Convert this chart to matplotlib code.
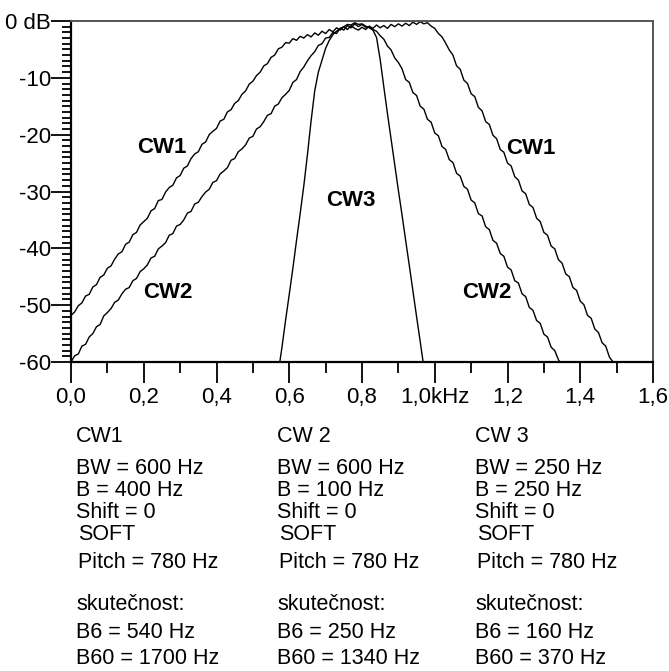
import matplotlib
matplotlib.use("Agg")
import matplotlib.pyplot as plt
from matplotlib.ticker import MultipleLocator, FixedLocator

# ---------------- data ----------------
# frequency grid of the measurement, kHz (10 Hz steps)
f_cw1 = [round(0.01 * i, 2) for i in range(150)]          # 0.00 .. 1.49
db_cw1 = [
    -51.8, -51.2, -50.1, -49.6, -48.4, -48.1, -46.8, -46.4, -45.1, -44.7,
    -43.5, -43.1, -41.9, -41.0, -40.6, -39.3, -38.9, -37.6, -37.2, -35.9,
    -35.3, -34.7, -33.4, -33.0, -31.6, -31.4, -30.1, -29.3, -28.9, -27.6,
    -27.2, -25.9, -25.5, -24.2, -23.4, -23.0, -21.7, -21.3, -20.0, -19.4,
    -18.9, -17.6, -17.3, -16.0, -15.6, -14.5, -14.0, -12.9, -12.3, -11.1,
    -10.6, -9.6, -9.0, -7.9, -7.5, -6.4, -6.0, -4.9, -4.6, -3.8,
    -3.9, -3.1, -3.4, -2.7, -3.0, -2.4, -2.8, -2.1, -2.5, -1.8,
    -2.2, -1.5, -1.9, -1.2, -1.6, -1.0, -1.5, -0.8, -1.3, -1.6,
    -1.1, -1.5, -0.9, -1.3, -0.7, -1.2, -0.8, -1.3, -0.6, -1.0,
    -0.5, -0.9, -0.4, -0.8, -0.2, -0.6, -0.1, -0.5, -0.3, -0.9,
    -1.3, -2.2, -2.8, -3.9, -5.1, -6.0, -7.9, -8.5, -10.4, -11.0,
    -12.8, -13.3, -15.2, -15.8, -17.7, -18.2, -20.1, -20.7, -22.6, -23.1,
    -25.0, -25.5, -27.4, -28.0, -29.9, -30.4, -32.3, -32.8, -34.7, -35.3,
    -37.2, -37.7, -39.6, -40.1, -42.0, -42.6, -44.5, -45.0, -46.9, -47.4,
    -49.3, -49.9, -51.8, -52.3, -54.2, -54.8, -56.6, -57.2, -59.1, -60.0,
]

f_cw2 = [round(0.01 * i, 2) for i in range(135)] + [1.344]  # 0.00 .. 1.344
db_cw2 = [
    -60.0, -58.9, -58.6, -57.2, -56.9, -55.6, -55.0, -53.8, -53.4, -51.9,
    -51.3, -50.6, -49.5, -49.1, -48.0, -47.2, -46.9, -45.7, -45.3, -44.1,
    -43.6, -42.9, -41.7, -41.4, -40.1, -39.6, -39.0, -37.7, -37.4, -36.1,
    -35.8, -35.0, -33.8, -33.5, -32.2, -31.9, -30.9, -30.1, -29.6, -28.4,
    -28.1, -26.9, -26.4, -25.8, -24.5, -24.2, -23.0, -22.5, -21.8, -20.6,
    -20.3, -19.0, -18.6, -17.7, -16.6, -16.3, -15.0, -14.6, -13.5, -12.9,
    -12.2, -10.8, -10.3, -8.9, -8.1, -7.0, -6.1, -5.4, -4.3, -4.0,
    -3.0, -2.9, -2.0, -2.2, -1.3, -1.6, -0.8, -1.2, -0.5, -1.0,
    -0.6, -1.1, -1.0, -1.5, -1.8, -2.6, -3.2, -4.4, -5.1, -6.5,
    -7.3, -8.4, -10.3, -10.8, -12.6, -13.1, -15.0, -15.5, -17.3, -17.8,
    -19.7, -20.2, -22.1, -22.6, -24.4, -24.9, -26.8, -27.3, -29.1, -29.6,
    -31.5, -32.0, -33.9, -34.3, -36.2, -36.7, -38.6, -39.1, -40.9, -41.4,
    -43.3, -43.8, -45.7, -46.1, -48.0, -48.5, -50.4, -50.9, -52.7, -53.2,
    -55.1, -55.6, -57.4, -58.0, -59.6, -60.0,
]

f_cw3 = [0.574, 0.58, 0.59, 0.60, 0.61, 0.62, 0.63, 0.64, 0.65, 0.66,
         0.67, 0.68, 0.69, 0.70, 0.71, 0.72, 0.73, 0.74, 0.75, 0.76,
         0.77, 0.78, 0.79, 0.80, 0.81, 0.82, 0.83, 0.84, 0.85, 0.86,
         0.87, 0.88, 0.89, 0.90, 0.91, 0.92, 0.93, 0.94, 0.95, 0.96, 0.968]
db_cw3 = [-60.0, -57.4, -52.6, -48.1, -43.5, -38.6, -33.9, -29.0, -23.5, -17.6,
          -12.3, -9.0, -6.9, -4.8, -3.4, -2.4, -1.8, -1.3, -1.0, -0.6,
          -0.7, -0.3, -0.6, -0.5, -0.9, -1.2, -1.6, -2.9, -6.8, -11.6,
          -16.3, -20.8, -25.3, -29.8, -34.1, -38.6, -43.0, -47.5, -52.0, -56.4, -60.0]

x_ticks = [0.0, 0.2, 0.4, 0.6, 0.8, 1.0, 1.2, 1.4, 1.6]
x_ticklabels = ["0,0", "0,2", "0,4", "0,6", "0,8", "1,0kHz", "1,2", "1,4", "1,6"]
y_ticks = [0, -10, -20, -30, -40, -50, -60]
y_ticklabels = ["0 dB", "-10", "-20", "-30", "-40", "-50", "-60"]

curve_labels = ["CW1", "CW1", "CW2", "CW2", "CW3"]
curve_label_x = [0.25, 1.265, 0.265, 1.143, 0.77]
curve_label_y = [-22.3, -22.5, -47.7, -47.7, -31.5]

columns = [
    ["CW1", "BW = 600 Hz", "B = 400 Hz", "Shift = 0", "SOFT", "Pitch = 780 Hz",
     "skutečnost:", "B6 = 540 Hz", "B60 = 1700 Hz"],
    ["CW 2", "BW = 600 Hz", "B = 100 Hz", "Shift = 0", "SOFT", "Pitch = 780 Hz",
     "skutečnost:", "B6 = 250 Hz", "B60 = 1340 Hz"],
    ["CW 3", "BW = 250 Hz", "B = 250 Hz", "Shift = 0", "SOFT", "Pitch = 780 Hz",
     "skutečnost:", "B6 = 160 Hz", "B60 = 370 Hz"],
]

# ---------------- drawing ----------------
W, H = 669, 671
plt.rcParams['font.family'] = ['Liberation Sans', 'DejaVu Sans']
fig = plt.figure(figsize=(W / 100, H / 100), dpi=100)
ax = fig.add_axes([71 / W, 1 - 362 / H, (653 - 71) / W, (362 - 21) / H])

for f, d in [(f_cw1, db_cw1), (f_cw2, db_cw2), (f_cw3, db_cw3)]:
    ax.plot(f, d, color='black', lw=1.0)

ax.set_xlim(0, 1.6)
ax.set_ylim(-60, 0)

ax.xaxis.set_major_locator(FixedLocator(x_ticks))
ax.set_xticklabels(x_ticklabels)
ax.xaxis.set_minor_locator(MultipleLocator(0.1))
ax.yaxis.set_major_locator(FixedLocator(y_ticks))
ax.set_yticklabels(y_ticklabels)
ax.yaxis.set_minor_locator(MultipleLocator(1))

ax.tick_params(axis='x', which='major', direction='out', length=15, width=1.3,
               pad=3, labelsize=16, colors='black')
ax.tick_params(axis='x', which='minor', direction='out', length=8, width=1.3)
ax.tick_params(axis='y', which='major', direction='out', length=14.5, width=1.3,
               pad=0, labelsize=16)
ax.tick_params(axis='y', which='minor', direction='out', length=6.5, width=1.3)

for s in ['left', 'bottom']:
    ax.spines[s].set_color('black')
    ax.spines[s].set_linewidth(1.6)
for s in ['top', 'right']:
    ax.spines[s].set_color('#555555')
    ax.spines[s].set_linewidth(1.4)

for t, x, y in zip(curve_labels, curve_label_x, curve_label_y):
    ax.text(x, y, t, fontsize=16, fontweight='bold', ha='center', va='center')

col_x = [76, 277, 475]
row_y = [437, 468, 490, 512, 535, 562, 605, 632, 658]
for cx, lines in zip(col_x, columns):
    for i, (ry, line) in enumerate(zip(row_y, lines)):
        dx = 2 if i in (4, 5) else 0
        fig.text((cx + dx) / W, 1 - ry / H, line, fontsize=15.5,
                 ha='left', va='center')

fig.savefig("out.png", dpi=100)
